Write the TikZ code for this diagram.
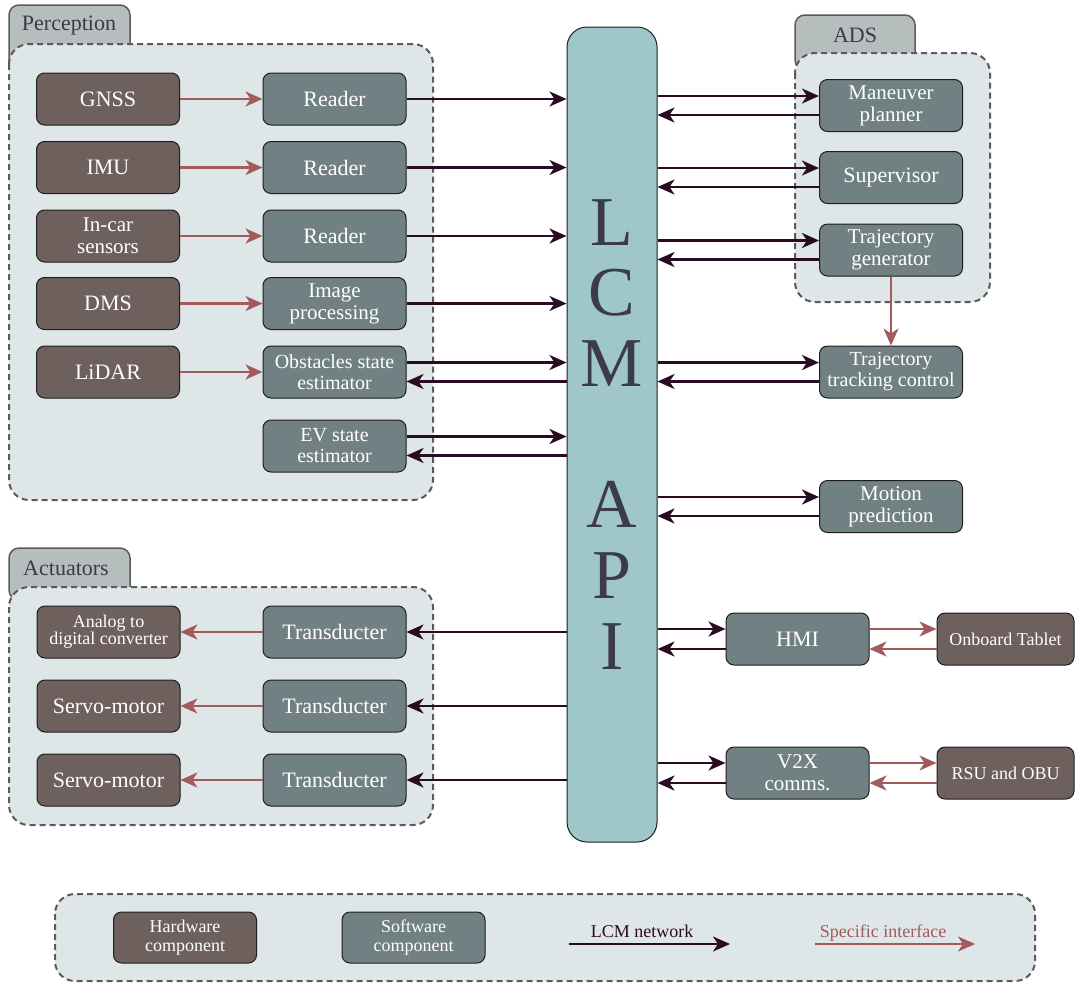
\documentclass[tikz,border=0pt]{standalone}
\usepackage{fontspec}
\setmainfont{Liberation Serif}
\usetikzlibrary{arrows.meta}

\definecolor{hwfill}{HTML}{6D605D}
\definecolor{swfill}{HTML}{718083}
\definecolor{grpfill}{HTML}{DFE6E8}
\definecolor{grpline}{HTML}{5A5A60}
\definecolor{tabfill}{HTML}{B6BDBD}
\definecolor{tabtext}{HTML}{3B3B4B}
\definecolor{lcmfill}{HTML}{9FC7C9}
\definecolor{boxline}{HTML}{1E1E1E}
\definecolor{netcol}{HTML}{2A0C22}
\definecolor{speccol}{HTML}{A35A5A}

\tikzset{
  box/.style={draw=boxline, line width=1pt, rounded corners=8pt,
    minimum width=143pt, minimum height=52pt, inner sep=1pt,
    text=white, align=center, font=\fontsize{22}{22}\selectfont},
  hwbox/.style={box, fill=hwfill},
  swbox/.style={box, fill=swfill},
  twoline/.style={font=\fontsize{21}{22}\selectfont},
  smalltext/.style={font=\fontsize{18}{17}\selectfont},
  netarrow/.style={draw=netcol, line width=2.6pt,
    -{Stealth[length=17pt,width=15pt,inset=5pt]}},
  specarrow/.style={draw=speccol, line width=2.2pt,
    -{Stealth[length=17pt,width=15pt,inset=5pt]}},
  group/.style={draw=grpline, line width=2pt, dash pattern=on 6pt off 4pt,
    fill=grpfill, rounded corners=20pt},
  tabshape/.style={draw=grpline, line width=1.5pt, fill=tabfill, rounded corners=10pt},
  tablabel/.style={text=tabtext, font=\fontsize{22}{22}\selectfont, inner sep=0pt},
  bigletter/.style={text=tabtext, font=\fontsize{70}{70}\selectfont, inner sep=0pt},
  legendtext/.style={font=\fontsize{18}{19}\selectfont}
}

\begin{document}
\begin{tikzpicture}[x=1pt,y=-1pt]
\useasboundingbox (0,0) rectangle (1075,983);

% ---------- group frames ----------
\draw[tabshape] (9,5) rectangle (130,70);
\draw[group] (9,44) rectangle (433,500);
\node[tablabel] (tperc) at (69,26) {Perception};

\draw[tabshape] (795,15) rectangle (915,70);
\draw[group] (795,53) rectangle (990,302);
\node[tablabel] (tads) at (855,35) {ADS};

\draw[tabshape] (9,548) rectangle (130,600);
\draw[group] (9,587) rectangle (433,825);
\node[tablabel] (tact) at (66,568) {Actuators};

\draw[group] (55,894) rectangle (1035,981);

% ---------- LCM API bus ----------
\node[draw=boxline, line width=1pt, fill=lcmfill, rounded corners=20pt,
      minimum width=90pt, minimum height=815pt, inner sep=0pt] (lcm) at (612,434.5) {};
\node[bigletter] (bl) at (612,222.5) {L};
\node[bigletter] (bc) at (612,292.5) {C};
\node[bigletter] (bm) at (612,364) {M};
\node[bigletter] (ba) at (612,504) {A};
\node[bigletter] (bp) at (612,575.5) {P};
\node[bigletter] (bi) at (612,646.5) {I};

% ---------- perception ----------
\node[hwbox] (gnss) at (108,99) {GNSS};
\node[swbox] (rd1) at (334.5,99) {Reader};
\node[hwbox] (imu) at (108,167.5) {IMU};
\node[swbox] (rd2) at (334.5,167.5) {Reader};
\node[hwbox, twoline] (incar) at (108,236) {In-car\\sensors};
\node[swbox] (rd3) at (334.5,236) {Reader};
\node[hwbox] (dms) at (108,303.5) {DMS};
\node[swbox, twoline] (imgp) at (334.5,303.5) {Image\\processing};
\node[hwbox] (lidar) at (108,372) {LiDAR};
\node[swbox, font=\fontsize{20}{21}\selectfont] (obs) at (334.5,372) {Obstacles state\\estimator};
\node[swbox, font=\fontsize{20}{21}\selectfont] (ev) at (334.5,446) {EV state\\estimator};

\foreach \h/\s in {gnss/rd1, imu/rd2, incar/rd3, dms/imgp, lidar/obs}
  \draw[specarrow] (\h) -- (\s);
\foreach \s in {rd1, rd2, rd3, imgp}
  \draw[netarrow] (\s.east) -- (\s.east -| lcm.west);
\foreach \s in {obs, ev} {
  \draw[netarrow] ([yshift=9.5pt]\s.east) -- ([yshift=9.5pt]\s.east -| lcm.west);
  \draw[netarrow] ([yshift=-9.5pt]\s.east -| lcm.west) -- ([yshift=-9.5pt]\s.east);
}

% ---------- ADS and control ----------
\node[swbox, twoline] (mplan) at (891,105.5) {Maneuver\\planner};
\node[swbox] (sup) at (891,177.5) {Supervisor};
\node[swbox, twoline] (tgen) at (891,250) {Trajectory\\generator};
\node[swbox, font=\fontsize{20}{21}\selectfont] (ttc) at (891,372) {Trajectory\\tracking control};
\node[swbox, twoline] (mpred) at (891,506.5) {Motion\\prediction};

\foreach \s in {mplan, sup, tgen, ttc, mpred} {
  \draw[netarrow] ([yshift=9.5pt]\s.west -| lcm.east) -- ([yshift=9.5pt]\s.west);
  \draw[netarrow] ([yshift=-9.5pt]\s.west) -- ([yshift=-9.5pt]\s.west -| lcm.east);
}
\draw[specarrow] (tgen) -- (ttc);

% ---------- HMI and V2X ----------
\node[swbox] (hmi) at (797.5,639) {HMI};
\node[hwbox, smalltext, minimum width=137pt] (tablet) at (1005.5,639) {Onboard Tablet};
\node[swbox, twoline] (v2x) at (797.5,773) {V2X\\comms.};
\node[hwbox, smalltext, minimum width=137pt] (rsu) at (1005.5,773) {RSU and OBU};

\foreach \s/\h in {hmi/tablet, v2x/rsu} {
  \draw[netarrow] ([yshift=10pt]\s.west -| lcm.east) -- ([yshift=10pt]\s.west);
  \draw[netarrow] ([yshift=-10pt]\s.west) -- ([yshift=-10pt]\s.west -| lcm.east);
  \draw[specarrow] ([yshift=10pt]\s.east) -- ([yshift=10pt]\h.west);
  \draw[specarrow] ([yshift=-10pt]\h.west) -- ([yshift=-10pt]\s.east);
}

% ---------- actuators ----------
\node[hwbox, smalltext] (adc) at (108.5,632) {Analog to\\digital converter};
\node[swbox] (tr1) at (334.5,632) {Transducter};
\node[hwbox] (servo1) at (108.5,706) {Servo-motor};
\node[swbox] (tr2) at (334.5,706) {Transducter};
\node[hwbox] (servo2) at (108.5,780) {Servo-motor};
\node[swbox] (tr3) at (334.5,780) {Transducter};

\foreach \s/\h in {tr1/adc, tr2/servo1, tr3/servo2} {
  \draw[netarrow] (\s.east -| lcm.west) -- (\s.east);
  \draw[specarrow] (\s) -- (\h);
}

% ---------- legend ----------
\node[hwbox, legendtext, minimum height=51pt] (lghw) at (185,937.5) {Hardware\\component};
\node[swbox, legendtext, minimum height=51pt] (lgsw) at (413.5,937.5) {Software\\component};
\coordinate (lna) at (569,944);
\coordinate (lnb) at (730,944);
\draw[netarrow] (lna) -- (lnb);
\node[legendtext, text=netcol, anchor=base] (lntext) at (642,937) {LCM network};
\coordinate (lsa) at (815,944);
\coordinate (lsb) at (975,944);
\draw[specarrow] (lsa) -- (lsb);
\node[legendtext, text=speccol, anchor=base] (lstext) at (883,937) {Specific interface};
\end{tikzpicture}
\end{document}
